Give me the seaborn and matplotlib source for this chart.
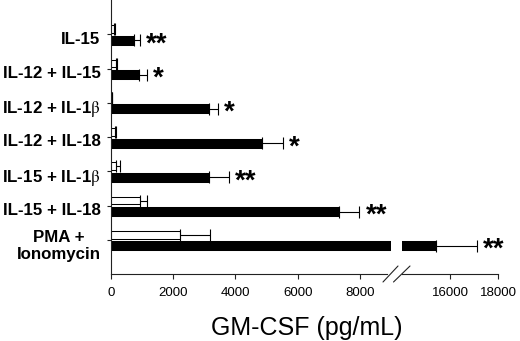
import numpy as np
import pandas as pd
import matplotlib
matplotlib.use("Agg")
import matplotlib.pyplot as plt
from matplotlib.lines import Line2D
import seaborn as sns

# ---- data ----
categories = ["IL-15", "IL-12 + IL-15", "IL-12 + IL-1$\\mathrm{\\beta}$", "IL-12 + IL-18",
              "IL-15 + IL-1$\\mathrm{\\beta}$", "IL-15 + IL-18", "PMA +\nIonomycin"]
control = [90, 150, 40, 130, 170, 925, 2215]
control_err = [40, 40, 0, 30, 110, 245, 965]
stimulated = [740, 900, 3140, 4840, 3160, 7330, 15400]
stimulated_err = [185, 250, 290, 690, 620, 650, 1720]
stars = ["**", "*", "*", "*", "**", "**", "**"]
left_ticks = [0, 2000, 4000, 6000, 8000]
right_ticks = [16000, 18000]
left_lim = (0, 9000)
right_lim = (14000, 18000)
xlabel = "GM-CSF (pg/mL)"

sns.set_style("ticks")
plt.rcParams["font.family"] = ["Liberation Sans", "DejaVu Sans"]
plt.rcParams["mathtext.fontset"] = "stix"
plt.rcParams["text.color"] = "black"
plt.rcParams["xtick.color"] = "black"
plt.rcParams["ytick.color"] = "black"
plt.rcParams["axes.labelcolor"] = "black"

df = pd.DataFrame({
    "category": categories * 2,
    "value": control + stimulated,
    "group": ["control"] * len(categories) + ["stim"] * len(categories),
})
errs = {"control": control_err, "stim": stimulated_err}
vals = {"control": control, "stim": stimulated}

W, H = 520, 341
fig = plt.figure(figsize=(W / 100, H / 100), dpi=100)
axL = fig.add_axes([111 / W, (H - 274) / H, 280 / W, 274 / H])
axR = fig.add_axes([402 / W, (H - 274) / H, 96 / W, 274 / H])

for ax, lim in ((axL, left_lim), (axR, right_lim)):
    sns.barplot(data=df, y="category", x="value", hue="group", orient="h",
                palette={"control": "white", "stim": "black"},
                edgecolor="black", linewidth=0.75, width=0.56, errorbar=None,
                legend=False, ax=ax, order=categories,
                hue_order=["control", "stim"])
    # adjust bar thickness/placement within each slot
    for cont, grp in zip(ax.containers, ["control", "stim"]):
        for i, p in enumerate(cont.patches):
            if grp == "control":
                p.set_y(i - 0.26)
                p.set_height(0.23)
            else:
                p.set_y(i + 0.05)
                p.set_height(0.26)
    for cont, grp in zip(ax.containers, ["control", "stim"]):
        ys = [p.get_y() + p.get_height() / 2 for p in cont.patches]
        ax.errorbar(vals[grp], ys, xerr=[np.zeros(len(ys)), errs[grp]],
                    fmt="none", ecolor="black", elinewidth=0.8,
                    capsize=4, capthick=0.8, clip_on=True)
    ax.set_xlim(*lim)
    ax.set_ylim(len(categories), -1)
    ax.set_xlabel("")
    ax.set_ylabel("")
    for s in ("top", "right"):
        ax.spines[s].set_visible(False)
    ax.spines["bottom"].set_linewidth(0.8)
    ax.spines["bottom"].set_color("#222222")
    ax.tick_params(axis="x", length=3.5, width=0.8, color="#222222",
                   labelsize=9.5, pad=6, labelcolor="black")

# left axes
axL.set_xticks(left_ticks, [str(t) for t in left_ticks])
axL.spines["left"].set_linewidth(0.8)
axL.spines["left"].set_color("#222222")
axL.spines["bottom"].set_bounds(0, 8870)
axL.set_yticks(np.arange(len(categories)), [""] * len(categories))
axL.tick_params(axis="y", which="major", length=3, width=0.8, color="#222222")
axL.set_yticks(np.arange(len(categories)) + 0.1, categories, minor=True)
axL.tick_params(axis="y", which="minor", length=0, pad=7.5, labelsize=12.2,
                labelcolor="black")
for lab in axL.get_yticklabels(minor=True):
    lab.set_fontweight("bold")
    lab.set_multialignment("center")

# right axes
axR.set_xticks(right_ticks, [str(t) for t in right_ticks])
axR.spines["left"].set_visible(False)
axR.set_yticks([])

# significance stars
stim_cont = axL.containers[1]
for i, (v, e, s) in enumerate(zip(stimulated, stimulated_err, stars)):
    p = stim_cont.patches[i]
    yc = p.get_y() + p.get_height() / 2
    end = v + e
    ax = axL if end <= left_lim[1] else axR
    ax.annotate(s, xy=(end, yc), xytext=(4.5, -3), textcoords="offset points",
                ha="left", va="center", fontsize=20, fontweight="bold",
                color="black", annotation_clip=False)

# axis break marks
for x0, x1 in ((383, 398), (393.5, 410)):
    fig.add_artist(Line2D([x0 / W, x1 / W], [(H - 282) / H, (H - 266) / H],
                          transform=fig.transFigure, color="#222222", lw=0.8))

fig.text(307 / W, (H - 328) / H, xlabel, ha="center", va="center", fontsize=18,
         color="black")

fig.savefig("out.png", dpi=100)
